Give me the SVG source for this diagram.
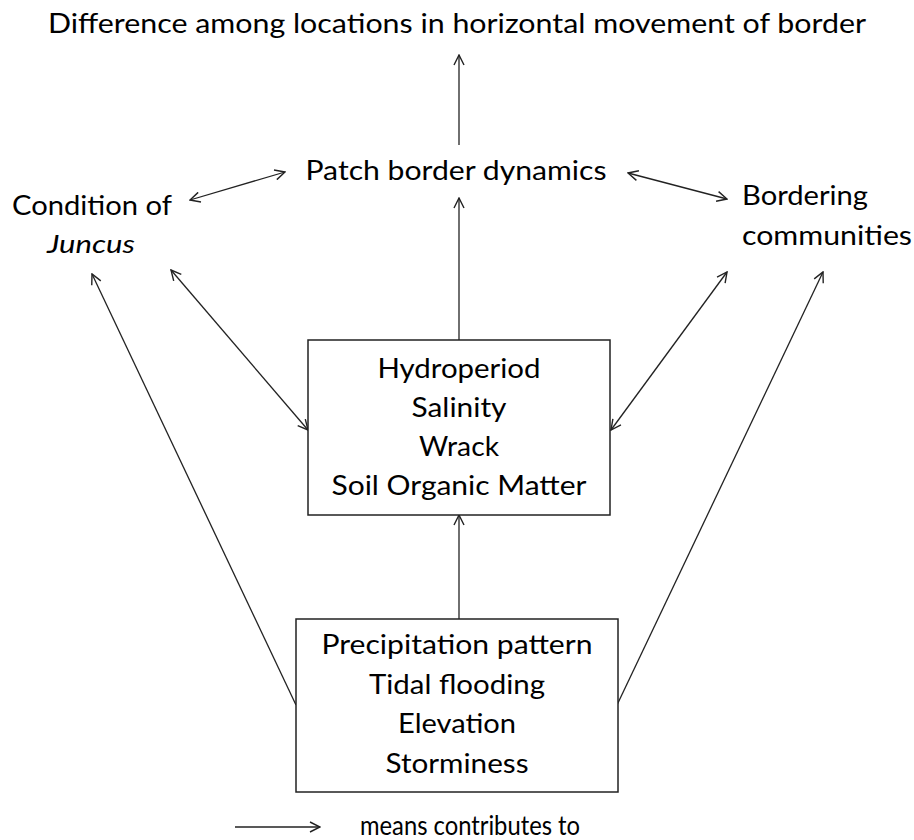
<svg xmlns="http://www.w3.org/2000/svg" width="914" height="840" viewBox="0 0 914 840">
<style>
text{font-family:Lato,"Open Sans","Liberation Sans",sans-serif;font-size:26px;fill:#000;}
.c{text-anchor:middle;}
.box{fill:#fff;stroke:#222;stroke-width:1.5;}
.ln{stroke:#222;stroke-width:1.3;fill:none;}
</style>
<defs>
<marker id="ah" viewBox="0 0 12 12" refX="11" refY="6" markerWidth="12" markerHeight="12" markerUnits="userSpaceOnUse" orient="auto-start-reverse">
<path d="M1,1 L11,6 L1,11" fill="none" stroke="#222" stroke-width="1.4"/>
</marker>
</defs>
<rect width="914" height="840" fill="#fff"/>
<g id="connectors">
<line class="ln" x1="459" y1="145" x2="459" y2="55" marker-end="url(#ah)"/>
<line class="ln" x1="190" y1="200" x2="285" y2="172" marker-start="url(#ah)" marker-end="url(#ah)"/>
<line class="ln" x1="628" y1="173" x2="727" y2="199" marker-start="url(#ah)" marker-end="url(#ah)"/>
<line class="ln" x1="459" y1="340" x2="459" y2="198" marker-end="url(#ah)"/>
<line class="ln" x1="459" y1="619" x2="459" y2="515" marker-end="url(#ah)"/>
<line class="ln" x1="171" y1="270" x2="308" y2="430" marker-start="url(#ah)" marker-end="url(#ah)"/>
<line class="ln" x1="727" y1="272" x2="611" y2="430" marker-start="url(#ah)" marker-end="url(#ah)"/>
<line class="ln" x1="296" y1="705" x2="92" y2="274" marker-end="url(#ah)"/>
<line class="ln" x1="617" y1="705" x2="823" y2="272" marker-end="url(#ah)"/>
</g>
<g id="title">
<text x="457" y="33" class="c" font-size="28" textLength="818" lengthAdjust="spacingAndGlyphs">Difference among locations in horizontal movement of border</text>
</g>
<g id="patch">
<text x="456" y="180" class="c" textLength="301" lengthAdjust="spacingAndGlyphs">Patch border dynamics</text>
</g>
<g id="condition">
<text x="92" y="215" class="c" textLength="160" lengthAdjust="spacingAndGlyphs">Condition of</text>
<text x="91" y="253" class="c" font-style="italic" textLength="88" lengthAdjust="spacingAndGlyphs">Juncus</text>
</g>
<g id="bordering">
<text x="742" y="205" textLength="126" lengthAdjust="spacingAndGlyphs">Bordering</text>
<text x="742" y="245" textLength="170" lengthAdjust="spacingAndGlyphs">communities</text>
</g>
<g id="box1">
<rect class="box" x="308" y="340" width="302" height="175"/>
<text x="459" y="378" class="c" textLength="163" lengthAdjust="spacingAndGlyphs">Hydroperiod</text>
<text x="459" y="417" class="c" textLength="95" lengthAdjust="spacingAndGlyphs">Salinity</text>
<text x="459" y="456" class="c" textLength="80" lengthAdjust="spacingAndGlyphs">Wrack</text>
<text x="459" y="495" class="c" textLength="255" lengthAdjust="spacingAndGlyphs">Soil Organic Matter</text>
</g>
<g id="box2">
<rect class="box" x="296" y="619" width="322" height="173"/>
<text x="457" y="654" class="c" textLength="271" lengthAdjust="spacingAndGlyphs">Precipitation pattern</text>
<text x="457" y="694" class="c" textLength="176" lengthAdjust="spacingAndGlyphs">Tidal flooding</text>
<text x="457" y="733" class="c" textLength="118" lengthAdjust="spacingAndGlyphs">Elevation</text>
<text x="457" y="773" class="c" textLength="143" lengthAdjust="spacingAndGlyphs">Storminess</text>
</g>
<g id="legend">
<line class="ln" x1="235" y1="827" x2="320" y2="827" marker-end="url(#ah)"/>
<text x="360" y="835" font-size="25" textLength="220" lengthAdjust="spacingAndGlyphs">means contributes to</text>
</g>
</svg>
